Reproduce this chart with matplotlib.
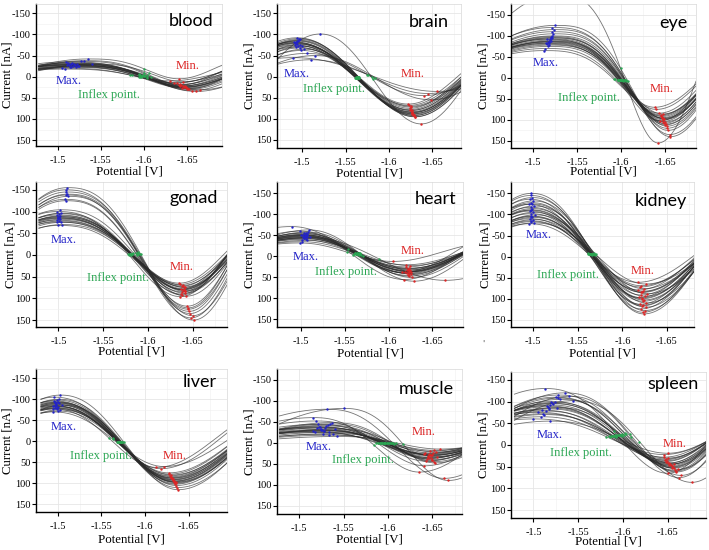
import numpy as np
import matplotlib
matplotlib.use('Agg')
import matplotlib.pyplot as plt

# ---------------- data ----------------
x_ticks = [-1.5, -1.55, -1.6, -1.65]
x_tick_labels = ['-1.5', '-1.55', '-1.6', '-1.65']
y_ticks = [-150, -100, -50, 0, 50, 100, 150]
y_tick_labels = ['-150', '-100', '-50', '0', '50', '100', '150']
tissues = ['blood', 'brain', 'eye', 'gonad', 'heart', 'kidney', 'liver', 'muscle', 'spleen']

blood_max_x = [-1.513,-1.515,-1.518,-1.512,-1.520,-1.516,-1.510,-1.522,-1.514,-1.519,-1.525,-1.505,-1.517,-1.530,-1.511,-1.521,-1.540,-1.508,-1.527,-1.516,-1.535,-1.523]
blood_max_y = [-28,-30,-25,-32,-27,-22,-35,-29,-24,-31,-26,-20,-33,-38,-27,-23,-30,-18,-36,-29,-42,-25]
blood_min_x = [-1.645,-1.648,-1.642,-1.650,-1.640,-1.646,-1.652,-1.638,-1.644,-1.655,-1.647,-1.635,-1.649,-1.643,-1.660,-1.641,-1.645,-1.630,-1.651,-1.665,-1.640,-1.647]
blood_min_y = [22,25,18,28,20,24,30,15,26,33,21,14,27,19,35,23,12,10,29,31,5,24]

brain_max_x = [-1.493,-1.495,-1.492,-1.497,-1.494,-1.500,-1.491,-1.496,-1.493,-1.498,-1.494,-1.492,-1.495,-1.502,-1.496,-1.493,-1.505,-1.515,-1.490,-1.497,-1.499,-1.494,-1.510,-1.521]
brain_max_y = [-80,-85,-75,-88,-78,-72,-82,-90,-70,-76,-84,-79,-73,-65,-86,-81,-55,-50,-45,-68,-62,-92,-40,-101]
brain_min_x = [-1.627,-1.628,-1.625,-1.629,-1.626,-1.624,-1.627,-1.630,-1.625,-1.626,-1.628,-1.627,-1.624,-1.622,-1.629,-1.626,-1.640,-1.648,-1.655,-1.625,-1.623,-1.630,-1.645,-1.637]
brain_min_y = [85,90,80,92,83,75,88,95,72,80,88,84,78,65,92,86,45,55,35,70,68,95,40,112]

eye_max_x = [-1.519,-1.517,-1.521,-1.515,-1.520,-1.522,-1.518,-1.516,-1.523,-1.519,-1.514,-1.520,-1.524,-1.518,-1.521,-1.517,-1.512,-1.525,-1.519,-1.522,-1.516,-1.520,-1.518,-1.527]
eye_max_y = [-90,-85,-95,-82,-88,-100,-78,-92,-105,-87,-70,-96,-115,-83,-120,-75,-65,-125,-93,-110,-80,-98,-86,-200]
eye_min_x = [-1.648,-1.646,-1.650,-1.645,-1.649,-1.651,-1.647,-1.644,-1.652,-1.648,-1.640,-1.649,-1.653,-1.646,-1.655,-1.643,-1.638,-1.656,-1.647,-1.652,-1.645,-1.650,-1.648,-1.642]
eye_min_y = [100,95,105,90,98,110,86,102,115,96,75,108,125,92,135,84,70,140,104,120,88,112,97,155]

gonad_max_x = [-1.508,-1.510,-1.509,-1.511,-1.507,-1.510,-1.509,-1.508,-1.500,-1.502,-1.499,-1.501,-1.503,-1.500,-1.498,-1.502,-1.501,-1.499,-1.504,-1.500,-1.502,-1.501,-1.499,-1.503,-1.500,-1.501]
gonad_max_y = [-150,-140,-145,-135,-128,-155,-138,-125,-85,-90,-80,-95,-75,-88,-100,-82,-78,-92,-70,-86,-104,-84,-76,-96,-68,-88]
gonad_min_x = [-1.648,-1.646,-1.650,-1.645,-1.644,-1.651,-1.647,-1.645,-1.640,-1.638,-1.641,-1.637,-1.639,-1.642,-1.636,-1.640,-1.638,-1.641,-1.635,-1.639,-1.643,-1.637,-1.640,-1.638,-1.636,-1.642]
gonad_min_y = [145,130,140,122,118,150,135,125,80,85,75,90,70,82,96,78,72,88,65,80,95,79,74,92,68,84]

heart_max_x = [-1.504,-1.502,-1.506,-1.503,-1.505,-1.500,-1.508,-1.504,-1.501,-1.507,-1.503,-1.505,-1.499,-1.506,-1.504,-1.502,-1.509,-1.503,-1.505,-1.501,-1.489,-1.506,-1.498,-1.510]
heart_max_y = [-48,-52,-45,-55,-42,-50,-58,-47,-40,-53,-44,-49,-60,-38,-51,-46,-63,-43,-56,-35,-71,-50,-32,-45]
heart_min_x = [-1.623,-1.621,-1.625,-1.622,-1.624,-1.619,-1.627,-1.623,-1.620,-1.626,-1.622,-1.624,-1.618,-1.625,-1.623,-1.621,-1.629,-1.622,-1.624,-1.620,-1.615,-1.626,-1.605,-1.665]
heart_min_y = [36,40,32,45,28,38,50,35,25,42,30,37,55,22,41,33,59,29,47,20,38,36,12,57]

kidney_max_x = [-1.498,-1.497,-1.499,-1.496,-1.500,-1.498,-1.495,-1.501,-1.497,-1.499,-1.498,-1.496,-1.500,-1.497,-1.502,-1.498,-1.499,-1.496,-1.500,-1.497,-1.498,-1.501,-1.495,-1.499,-1.497,-1.498]
kidney_max_y = [-150,-145,-140,-136,-132,-128,-124,-120,-117,-114,-111,-108,-105,-102,-99,-96,-93,-90,-88,-85,-83,-80,-78,-125,-110,-95]
kidney_min_x = [-1.624,-1.623,-1.625,-1.621,-1.626,-1.622,-1.620,-1.627,-1.623,-1.624,-1.622,-1.619,-1.625,-1.621,-1.628,-1.622,-1.623,-1.618,-1.624,-1.620,-1.621,-1.626,-1.617,-1.623,-1.622,-1.621]
kidney_min_y = [136,132,128,124,120,117,113,110,106,103,100,97,94,91,88,85,82,79,76,72,69,65,61,115,98,84]

liver_max_x = [-1.498,-1.497,-1.500,-1.496,-1.499,-1.501,-1.495,-1.498,-1.502,-1.497,-1.499,-1.496,-1.500,-1.498,-1.503,-1.497,-1.499,-1.495,-1.501,-1.498,-1.494,-1.505,-1.500,-1.497]
liver_max_y = [-87,-92,-82,-96,-78,-100,-85,-90,-75,-94,-80,-105,-72,-88,-110,-84,-98,-77,-91,-83,-70,-86,-93,-79]
liver_min_x = [-1.632,-1.633,-1.630,-1.634,-1.629,-1.636,-1.631,-1.633,-1.628,-1.635,-1.630,-1.637,-1.627,-1.632,-1.638,-1.631,-1.634,-1.613,-1.633,-1.618,-1.622,-1.632,-1.635,-1.630]
liver_min_y = [91,96,86,100,82,105,88,94,78,98,84,110,75,92,115,87,102,62,95,65,60,90,97,80]

muscle_max_x = [-1.520,-1.525,-1.530,-1.518,-1.535,-1.528,-1.522,-1.540,-1.527,-1.532,-1.515,-1.537,-1.524,-1.529,-1.543,-1.521,-1.533,-1.526,-1.519,-1.538,-1.531,-1.523,-1.550,-1.528,-1.516,-1.534]
muscle_max_y = [-35,-30,-40,-25,-45,-28,-38,-33,-20,-42,-27,-48,-32,-36,-15,-44,-25,-30,-52,-22,-80,-37,-82,-29,-60,-18]
muscle_min_x = [-1.645,-1.648,-1.650,-1.642,-1.652,-1.646,-1.644,-1.655,-1.647,-1.649,-1.640,-1.653,-1.645,-1.648,-1.658,-1.643,-1.651,-1.647,-1.641,-1.654,-1.663,-1.646,-1.668,-1.649,-1.635,-1.652]
muscle_min_y = [35,30,40,25,45,28,38,33,20,42,27,48,32,36,15,44,25,30,55,22,85,37,90,29,70,18]

spleen_max_x = [-1.515,-1.520,-1.510,-1.525,-1.518,-1.505,-1.528,-1.512,-1.522,-1.516,-1.530,-1.508,-1.519,-1.535,-1.514,-1.524,-1.500,-1.527,-1.517,-1.540,-1.511,-1.521,-1.544,-1.513,-1.526,-1.519]
spleen_max_y = [-90,-100,-80,-110,-85,-75,-115,-70,-95,-88,-105,-65,-92,-120,-78,-98,-60,-108,-83,-112,-72,-96,-102,-130,-86,-55]
spleen_min_x = [-1.652,-1.655,-1.648,-1.658,-1.651,-1.647,-1.660,-1.650,-1.656,-1.653,-1.662,-1.646,-1.654,-1.665,-1.649,-1.657,-1.646,-1.659,-1.652,-1.663,-1.648,-1.655,-1.677,-1.650,-1.657,-1.650]
spleen_min_y = [45,52,38,58,42,34,62,30,50,44,56,28,47,70,36,53,22,60,41,75,32,49,86,65,43,19]

# per-panel curve shape (inflexion fraction, left / right half-period factors)
shape_f = [0.62, 0.52, 0.63, 0.58, 0.51, 0.54, 0.54, 0.57, 0.56]
shape_kl = [1.4, 1.2, 1.9, 1.2, 1.5, 1.2, 1.2, 2.0, 1.5]
shape_kr = [0.77, 0.95, 0.84, 0.77, 1.04, 1.1, 1.16, 1.06, 0.8]

data = {
    'blood': (blood_max_x, blood_max_y, blood_min_x, blood_min_y),
    'brain': (brain_max_x, brain_max_y, brain_min_x, brain_min_y),
    'eye': (eye_max_x, eye_max_y, eye_min_x, eye_min_y),
    'gonad': (gonad_max_x, gonad_max_y, gonad_min_x, gonad_min_y),
    'heart': (heart_max_x, heart_max_y, heart_min_x, heart_min_y),
    'kidney': (kidney_max_x, kidney_max_y, kidney_min_x, kidney_min_y),
    'liver': (liver_max_x, liver_max_y, liver_min_x, liver_min_y),
    'muscle': (muscle_max_x, muscle_max_y, muscle_min_x, muscle_min_y),
    'spleen': (spleen_max_x, spleen_max_y, spleen_min_x, spleen_min_y),
}

# ---------------- layout (pixels) ----------------
W, H = 709, 550
rects = {  # left, right, top, bottom
    'blood': (36, 222, 4, 146), 'brain': (277, 461, 4, 148), 'eye': (511, 696, 4, 148),
    'gonad': (36, 227, 182, 327), 'heart': (277, 463, 182, 327), 'kidney': (511, 694, 182, 327),
    'liver': (36, 227, 369, 512), 'muscle': (277, 462, 369, 514), 'spleen': (511, 706, 372, 518),
}
xlims = {
    'blood': (-1.478, -1.690), 'brain': (-1.471, -1.683), 'eye': (-1.4764, -1.685),
    'gonad': (-1.4782, -1.6884), 'heart': (-1.4722, -1.6853), 'kidney': (-1.4767, -1.6804),
    'liver': (-1.4806, -1.694), 'muscle': (-1.4778, -1.6833), 'spleen': (-1.4788, -1.693),
}
ylims = {  # top value, bottom value
    'blood': (-172, 164), 'brain': (-172, 169), 'eye': (-176, 167),
    'gonad': (-168, 166), 'heart': (-177, 168), 'kidney': (-177, 167),
    'liver': (-172, 168), 'muscle': (-176, 170), 'spleen': (-168, 168),
}
title_pos = {
    'blood': (213, 21), 'brain': (449, 22), 'eye': (688, 23),
    'gonad': (218, 198), 'heart': (456, 199), 'kidney': (687, 201),
    'liver': (217, 382), 'muscle': (454, 389), 'spleen': (699, 384),
}
xlabel_y = {'blood': 171, 'brain': 173, 'eye': 172, 'gonad': 351, 'heart': 353,
            'kidney': 353, 'liver': 540, 'muscle': 539, 'spleen': 542}
ylabel_x = {'blood': 8, 'brain': 250, 'eye': 483, 'gonad': 11, 'heart': 250,
            'kidney': 485, 'liver': 8, 'muscle': 250, 'spleen': 483}
ann_pos = {  # Max, Inflex, Min (data coordinates)
    'blood': [(-1.5129, 11), (-1.559, 43), (-1.650, -26)],
    'brain': [(-1.4943, -6), (-1.5363, 29), (-1.627, -6)],
    'eye': [(-1.5139, -35), (-1.5639, 48), (-1.6466, 26)],
    'gonad': [(-1.5065, -35), (-1.5668, 52), (-1.6374, 28)],
    'heart': [(-1.5046, 2), (-1.5514, 36), (-1.6272, -13)],
    'kidney': [(-1.5063, -52), (-1.5389, 43), (-1.6233, 33)],
    'liver': [(-1.5067, -34), (-1.550, 34), (-1.6336, 36)],
    'muscle': [(-1.5222, 9), (-1.5715, 41), (-1.6396, -25)],
    'spleen': [(-1.5183, -23), (-1.553, 19), (-1.658, -2)],
}

BLUE, GREEN, RED = '#2323c8', '#2aa552', '#dc2626'
SERIF = 'Liberation Serif'


def curve(xs, mx, my, nx, ny, f, kl, kr):
    d = mx - nx
    t = (mx - xs) / d
    q = np.log(0.5) / np.log(f)
    amp = ny - my
    y = np.empty_like(xs)
    left, right = t < 0, t > 1
    mid = ~(left | right)
    s = -t[left] / kl
    y[left] = my + amp * (1 - np.cos(np.pi * s)) / 2
    ph = t[mid] ** q
    y[mid] = my + amp * (1 - np.cos(np.pi * ph)) / 2
    s = (t[right] - 1) / kr
    y[right] = ny - amp * (1 - np.cos(np.pi * s)) / 2
    return y


fig = plt.figure(figsize=(W / 100, H / 100), dpi=100)

for i, name in enumerate(tissues):
    l, r, tp, bt = rects[name]
    ax = fig.add_axes([l / W, 1 - bt / H, (r - l) / W, (bt - tp) / H])
    x0, x1 = xlims[name]
    ytop, ybot = ylims[name]
    ax.set_xlim(x0, x1)
    ax.set_ylim(ybot, ytop)

    ax.set_xticks(x_ticks)
    ax.set_xticklabels(x_tick_labels, fontsize=7.5, family=SERIF)
    ax.set_yticks(y_ticks)
    ax.set_yticklabels(y_tick_labels, fontsize=7.5, family=SERIF)
    ax.set_xticks([-1.475, -1.525, -1.575, -1.625, -1.675], minor=True)
    ax.set_yticks([-125, -75, -25, 25, 75, 125], minor=True)
    ax.grid(True, which='major', color='#e6e6e6', lw=0.6, zorder=0)
    ax.grid(True, which='minor', color='#f0f0f0', lw=0.4, zorder=0)
    ax.set_axisbelow(True)
    ax.tick_params(which='minor', length=0)
    ax.tick_params(which='major', length=2.8, width=0.8, colors='black', direction='out')
    ax.tick_params(axis='x', which='major', pad=4.5)
    ax.tick_params(axis='y', which='major', pad=1)
    for sp in ['top', 'right']:
        ax.spines[sp].set_color('#d8d8d8')
        ax.spines[sp].set_linewidth(0.5)
    for sp in ['left', 'bottom']:
        ax.spines[sp].set_color('black')
        ax.spines[sp].set_linewidth(1.0)

    fig.text(((l + r) / 2) / W, 1 - xlabel_y[name] / H, 'Potential [V]', fontsize=9.3,
             family=SERIF, ha='center', va='center')
    fig.text(ylabel_x[name] / W, 1 - ((tp + bt) / 2) / H, 'Current [nA]', fontsize=9.3,
             family=SERIF, ha='center', va='center', rotation=90)

    mxs, mys, nxs, nys = data[name]
    f, kl, kr = shape_f[i], shape_kl[i], shape_kr[i]
    xs = np.linspace(x0, x1, 300)
    for mx, my, nx, ny in zip(mxs, mys, nxs, nys):
        ys = curve(xs, mx, my, nx, ny, f, kl, kr)
        ax.plot(xs, ys, color='#2a2a2a', lw=0.6, alpha=0.65, zorder=2)
    ix = [mx - f * (mx - nx) for mx, nx in zip(mxs, nxs)]
    iy = [(my + ny) / 2 for my, ny in zip(mys, nys)]
    ax.scatter(mxs, mys, s=3, color=BLUE, lw=0, zorder=3)
    ax.scatter(ix, iy, s=3, color=GREEN, lw=0, zorder=3)
    ax.scatter(nxs, nys, s=3, color=RED, lw=0, zorder=3)

    (ax_, ay_), (bx_, by_), (cx_, cy_) = ann_pos[name]
    ax.text(ax_, ay_, 'Max.', color=BLUE, fontsize=9, family=SERIF, ha='center', va='center', zorder=4)
    ax.text(bx_, by_, 'Inflex point.', color=GREEN, fontsize=9, family=SERIF, ha='center', va='center', zorder=4)
    ax.text(cx_, cy_, 'Min.', color=RED, fontsize=9, family=SERIF, ha='center', va='center', zorder=4)

    tx, ty = title_pos[name]
    fig.text(tx / W, 1 - ty / H, name, fontsize=13, family='Lato', ha='right', va='center')

fig.text(483 / W, 1 - 344 / H, "'", fontsize=6, color='#555555', ha='center', va='center')

fig.savefig('out.png', dpi=100)
